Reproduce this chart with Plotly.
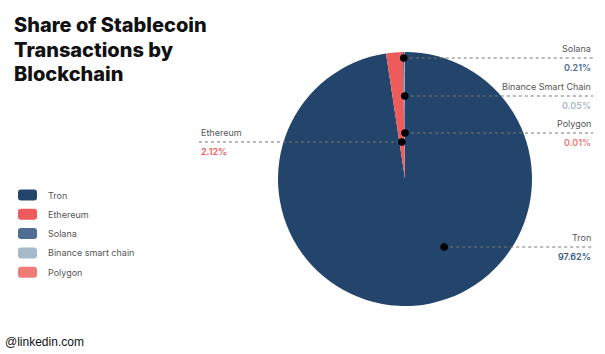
import math
import plotly.graph_objects as go

# ---- data ----
chains = ["Tron", "Ethereum", "Solana", "Binance smart chain", "Polygon"]
label_names = ["Tron", "Ethereum", "Solana", "Binance Smart Chain", "Polygon"]
shares = [97.62, 2.12, 0.21, 0.05, 0.01]
colors = ["#23456B", "#EE5B5B", "#4F6D92", "#A6B9CA", "#EE7B78"]
value_colors = ["#3B5B85", "#F05C5C", "#4F6D92", "#A8BACB", "#F07A78"]

# ---- layout (pixels) ----
W, H = 605, 354
CX, CY, R = 405, 179, 127
# leader line y-level, side, anchor position along slice (fraction)
line_y = [247, 142, 58, 96, 133]
side = ["right", "left", "right", "right", "right"]
anchor_frac = [0.427, 0.5, 0.5, 0.5, 0.5]
RIGHT_X, LEFT_X = 593, 199

fig = go.Figure()
fig.add_trace(go.Pie(
    labels=chains, values=shares, sort=False, direction="clockwise", rotation=0,
    marker=dict(colors=colors, line=dict(width=0)), textinfo="none",
    hoverinfo="label+percent", showlegend=False,
    domain=dict(x=[(CX - R) / W, (CX + R) / W], y=[1 - (CY + R) / H, 1 - (CY - R) / H]),
))

shapes, annotations = [], []
total = sum(shares)
cum = 0.0
for i, v in enumerate(shares):
    start = cum / total * 360
    cum += v
    end = cum / total * 360
    ang = math.radians(start + (end - start) * anchor_frac[i])
    y = line_y[i]
    dy = CY - y
    # point on the anchor ray at height y
    if abs(math.cos(ang)) > 1e-6:
        t = dy / math.cos(ang)
        x = CX + t * math.sin(ang)
    else:
        x = CX
    if side[i] == "right":
        x0, x1, tx, xa = x, RIGHT_X, RIGHT_X, "right"
    else:
        x0, x1, tx, xa = LEFT_X, x, LEFT_X, "left"
    shapes.append(dict(type="line", xref="x", yref="y", x0=x0, x1=x1, y0=y, y1=y,
                       line=dict(color="#777777", width=1, dash="dot"), layer="above"))
    shapes.append(dict(type="circle", xref="x", yref="y", x0=x - 3.8, x1=x + 3.8,
                       y0=y - 3.8, y1=y + 3.8, fillcolor="black", line=dict(width=0),
                       layer="above"))
    annotations.append(dict(xref="x", yref="y", x=tx, y=y - 9.5, text=label_names[i],
                            showarrow=False, xanchor=xa, yanchor="middle",
                            font=dict(family="Inter", size=9, color="#555555")))
    annotations.append(dict(xref="x", yref="y", x=tx, y=y + 9.5, text=f"{v:.2f}%",
                            showarrow=False, xanchor=xa, yanchor="middle",
                            font=dict(family="Inter", size=9, color=value_colors[i], weight=600)))

# custom legend with rounded boxes
leg_y0, leg_dy = 195, 19.3
for i, name in enumerate(chains):
    yc = leg_y0 + i * leg_dy
    x0, x1, y0, y1, r = 18, 37, yc - 5.5, yc + 5.5, 3
    path = (f"M {x0+r},{y0} L {x1-r},{y0} Q {x1},{y0} {x1},{y0+r} L {x1},{y1-r} "
            f"Q {x1},{y1} {x1-r},{y1} L {x0+r},{y1} Q {x0},{y1} {x0},{y1-r} "
            f"L {x0},{y0+r} Q {x0},{y0} {x0+r},{y0} Z")
    shapes.append(dict(type="path", xref="x", yref="y", path=path,
                       fillcolor=colors[i], line=dict(width=0)))
    annotations.append(dict(xref="x", yref="y", x=46, y=yc, text=name, showarrow=False,
                            xanchor="left", yanchor="middle",
                            font=dict(family="Inter", size=9, color="#555555")))

# title
for j, line in enumerate(["Share of Stablecoin", "Transactions by", "Blockchain"]):
    annotations.append(dict(xref="x", yref="y", x=12, y=25 + j * 24.5, text=line,
                            showarrow=False, xanchor="left", yanchor="middle",
                            font=dict(family="Inter", size=20, color="#111111", weight=800)))

annotations.append(dict(xref="x", yref="y", x=3, y=342, text="@linkedin.com", showarrow=False,
                        xanchor="left", yanchor="middle",
                        font=dict(family="Liberation Sans", size=12, color="#111111")))

fig.update_layout(
    width=W, height=H, margin=dict(l=0, r=0, t=0, b=0),
    paper_bgcolor="white", plot_bgcolor="rgba(0,0,0,0)",
    xaxis=dict(range=[0, W], visible=False, fixedrange=True, domain=[0, 1]),
    yaxis=dict(range=[H, 0], visible=False, fixedrange=True, domain=[0, 1]),
    shapes=shapes, annotations=annotations, showlegend=False,
)
fig.write_html("out.html")
